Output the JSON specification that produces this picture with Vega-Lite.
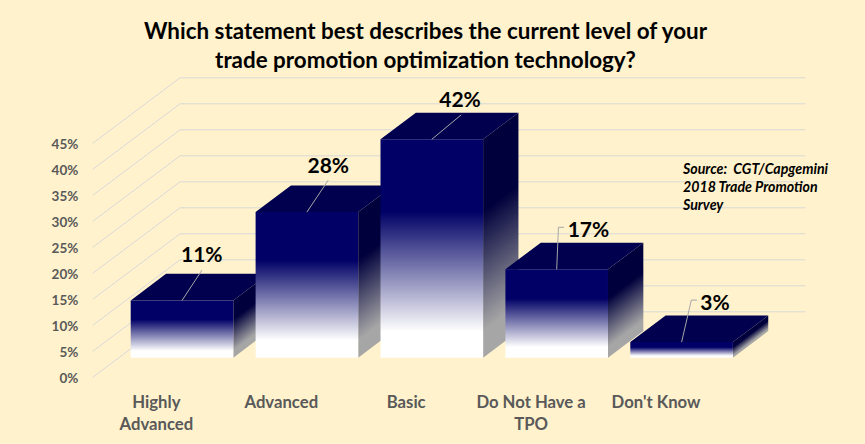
{
"$schema":"https://vega.github.io/schema/vega-lite/v6.json",
"width":865,"height":444,"padding":0,"autosize":{"type":"none"},
"background":"#FFF2CC",
"view":{"stroke":null,"fill":null},
"title":{"text":["Which statement best describes the current level of your","trade promotion optimization technology?"],"font":"Lato","fontSize":22.4,"fontWeight":"bold","color":"#000000","lineHeight":29,"anchor":"middle","frame":"group","baseline":"top","offset":-72,"dx":-7},
"datasets":{
"bars":[
{"category":"Highly Advanced","label":"Highly\nAdvanced","i":0,"value":11},
{"category":"Advanced","label":"Advanced","i":1,"value":28},
{"category":"Basic","label":"Basic","i":2,"value":42},
{"category":"Do Not Have a TPO","label":"Do Not Have a\nTPO","i":3,"value":17},
{"category":"Don't Know","label":"Don't Know","i":4,"value":3}],
"ticks":[{"t":0,"label":"0%"},{"t":5,"label":"5%"},{"t":10,"label":"10%"},{"t":15,"label":"15%"},{"t":20,"label":"20%"},{"t":25,"label":"25%"},{"t":30,"label":"30%"},{"t":35,"label":"35%"},{"t":40,"label":"40%"},{"t":45,"label":"45%"}]
},
"layer":[
{"data":{"name":"ticks"},"transform":[{"calculate":"datum.t-3.77","as":"yf"},{"calculate":"datum.t+8.83","as":"yb"},{"calculate":"-0.715","as":"xf"},{"calculate":"-0.016","as":"xb"}],
 "mark":{"type":"rule","color":"#D9D9D9","strokeWidth":1},
 "encoding":{"x":{"field":"xf","type":"quantitative","axis":null,"scale":{"domain":[-1.4572,5.4684],"nice":false,"zero":false}},"x2":{"field":"xb"},"y":{"field":"yf","type":"quantitative","axis":null,"scale":{"domain":[-16.596,68.79],"nice":false,"zero":false}},"y2":{"field":"yb"}}},
{"data":{"name":"ticks"},"transform":[{"calculate":"datum.t+8.83","as":"yb"},{"calculate":"-0.016","as":"xb"},{"calculate":"4.99","as":"xe"}],
 "mark":{"type":"rule","color":"#D9D9D9","strokeWidth":1},
 "encoding":{"x":{"field":"xb","type":"quantitative","axis":null,"scale":{"domain":[-1.4572,5.4684],"nice":false,"zero":false}},"x2":{"field":"xe"},"y":{"field":"yb","type":"quantitative","axis":null,"scale":{"domain":[-16.596,68.79],"nice":false,"zero":false}}}},
{"data":{"name":"ticks"},"transform":[{"calculate":"datum.t-3.77","as":"yf"},{"calculate":"-0.83","as":"xl"}],
 "mark":{"type":"text","align":"right","baseline":"middle","dy":1.5,"font":"Lato","fontWeight":"bold","fontSize":13.5,"color":"#595959"},
 "encoding":{"x":{"field":"xl","type":"quantitative","axis":null,"scale":{"domain":[-1.4572,5.4684],"nice":false,"zero":false}},"y":{"field":"yf","type":"quantitative","axis":null,"scale":{"domain":[-16.596,68.79],"nice":false,"zero":false}},"text":{"field":"label"}}},

{"data":{"name":"bars"},"transform":[{"filter":"datum.i==0"},{"calculate":"[0,1]","as":"d"},{"flatten":["d"]},{"calculate":"datum.i+0.4107+datum.d*0.283","as":"sx"},{"calculate":"datum.value+datum.d*5.13","as":"st"},{"calculate":"datum.d*5.13","as":"sb"}],
 "mark":{"type":"area","orientation":"vertical","fill":{"gradient":"linear","x1":0,"y1":0.318,"x2":0.197,"y2":0.937,"stops":[{"offset":0,"color":"#00003C"},{"offset":0.33,"color":"#00003C"},{"offset":0.88,"color":"#A6A6A6"},{"offset":1,"color":"#A6A6A6"}]}},
 "encoding":{"x":{"field":"sx","type":"quantitative","axis":null,"scale":{"domain":[-1.4572,5.4684],"nice":false,"zero":false}},"y":{"field":"st","type":"quantitative","axis":null,"scale":{"domain":[-16.596,68.79],"nice":false,"zero":false}},"y2":{"field":"sb"}}},
{"data":{"name":"bars"},"transform":[{"filter":"datum.i==1"},{"calculate":"[0,1]","as":"d"},{"flatten":["d"]},{"calculate":"datum.i+0.4107+datum.d*0.283","as":"sx"},{"calculate":"datum.value+datum.d*5.13","as":"st"},{"calculate":"datum.d*5.13","as":"sb"}],
 "mark":{"type":"area","orientation":"vertical","fill":{"gradient":"linear","x1":0,"y1":0.155,"x2":0.128,"y2":0.98,"stops":[{"offset":0,"color":"#00003C"},{"offset":0.33,"color":"#00003C"},{"offset":0.88,"color":"#A6A6A6"},{"offset":1,"color":"#A6A6A6"}]}},
 "encoding":{"x":{"field":"sx","type":"quantitative","axis":null,"scale":{"domain":[-1.4572,5.4684],"nice":false,"zero":false}},"y":{"field":"st","type":"quantitative","axis":null,"scale":{"domain":[-16.596,68.79],"nice":false,"zero":false}},"y2":{"field":"sb"}}},
{"data":{"name":"bars"},"transform":[{"filter":"datum.i==2"},{"calculate":"[0,1]","as":"d"},{"flatten":["d"]},{"calculate":"datum.i+0.4107+datum.d*0.283","as":"sx"},{"calculate":"datum.value+datum.d*5.13","as":"st"},{"calculate":"datum.d*5.13","as":"sb"}],
 "mark":{"type":"area","orientation":"vertical","fill":{"gradient":"linear","x1":0,"y1":0.109,"x2":0.096,"y2":0.989,"stops":[{"offset":0,"color":"#00003C"},{"offset":0.33,"color":"#00003C"},{"offset":0.88,"color":"#A6A6A6"},{"offset":1,"color":"#A6A6A6"}]}},
 "encoding":{"x":{"field":"sx","type":"quantitative","axis":null,"scale":{"domain":[-1.4572,5.4684],"nice":false,"zero":false}},"y":{"field":"st","type":"quantitative","axis":null,"scale":{"domain":[-16.596,68.79],"nice":false,"zero":false}},"y2":{"field":"sb"}}},
{"data":{"name":"bars"},"transform":[{"filter":"datum.i==3"},{"calculate":"[0,1]","as":"d"},{"flatten":["d"]},{"calculate":"datum.i+0.4107+datum.d*0.283","as":"sx"},{"calculate":"datum.value+datum.d*5.13","as":"st"},{"calculate":"datum.d*5.13","as":"sb"}],
 "mark":{"type":"area","orientation":"vertical","fill":{"gradient":"linear","x1":0,"y1":0.232,"x2":0.169,"y2":0.961,"stops":[{"offset":0,"color":"#00003C"},{"offset":0.33,"color":"#00003C"},{"offset":0.88,"color":"#A6A6A6"},{"offset":1,"color":"#A6A6A6"}]}},
 "encoding":{"x":{"field":"sx","type":"quantitative","axis":null,"scale":{"domain":[-1.4572,5.4684],"nice":false,"zero":false}},"y":{"field":"st","type":"quantitative","axis":null,"scale":{"domain":[-16.596,68.79],"nice":false,"zero":false}},"y2":{"field":"sb"}}},
{"data":{"name":"bars"},"transform":[{"filter":"datum.i==4"},{"calculate":"[0,1]","as":"d"},{"flatten":["d"]},{"calculate":"datum.i+0.4107+datum.d*0.283","as":"sx"},{"calculate":"datum.value+datum.d*5.13","as":"st"},{"calculate":"datum.d*5.13","as":"sb"}],
 "mark":{"type":"area","orientation":"vertical","fill":{"gradient":"linear","x1":0,"y1":0.631,"x2":0.167,"y2":0.895,"stops":[{"offset":0,"color":"#00003C"},{"offset":0.33,"color":"#00003C"},{"offset":0.88,"color":"#A6A6A6"},{"offset":1,"color":"#A6A6A6"}]}},
 "encoding":{"x":{"field":"sx","type":"quantitative","axis":null,"scale":{"domain":[-1.4572,5.4684],"nice":false,"zero":false}},"y":{"field":"st","type":"quantitative","axis":null,"scale":{"domain":[-16.596,68.79],"nice":false,"zero":false}},"y2":{"field":"sb"}}},

{"data":{"name":"bars"},"transform":[{"calculate":"[0,1]","as":"d"},{"flatten":["d"]},{"calculate":"datum.i-0.4107+datum.d*0.283","as":"tl"},{"calculate":"datum.i+0.4107+datum.d*0.283","as":"tr"},{"calculate":"datum.value+datum.d*5.13","as":"ty"}],
 "mark":{"type":"area","orientation":"horizontal","fill":"#00004F"},
 "encoding":{"y":{"field":"ty","type":"quantitative","axis":null,"scale":{"domain":[-16.596,68.79],"nice":false,"zero":false}},"x":{"field":"tl","type":"quantitative","axis":null,"scale":{"domain":[-1.4572,5.4684],"nice":false,"zero":false}},"x2":{"field":"tr"},"detail":{"field":"category"}}},

{"data":{"name":"bars"},"transform":[{"calculate":"datum.i-0.4107","as":"fl"},{"calculate":"datum.i+0.4107","as":"fr"}],
 "mark":{"type":"rect","fill":{"gradient":"linear","x1":0,"y1":0,"x2":0,"y2":1,"stops":[{"offset":0,"color":"#000066"},{"offset":0.33,"color":"#000066"},{"offset":0.88,"color":"#FFFFFF"},{"offset":1,"color":"#FFFFFF"}]}},
 "encoding":{"x":{"field":"fl","type":"quantitative","axis":null,"scale":{"domain":[-1.4572,5.4684],"nice":false,"zero":false}},"x2":{"field":"fr"},"y":{"field":"value","type":"quantitative","axis":null,"scale":{"domain":[-16.596,68.79],"nice":false,"zero":false}},"y2":{"datum":0}}},

{"data":{"name":"bars"},"transform":[{"calculate":"[0,1,2]","as":"d"},{"flatten":["d"]},
 {"calculate":"[0.16,0.171,0.235,0.014,0.078][datum.i]","as":"ox"},{"calculate":"[5.85,6.15,4.69,8.08,8.08][datum.i]","as":"oy"},{"calculate":"[0,0,0,0.045,0.045][datum.i]","as":"ex"},
 {"calculate":"datum.i+(datum.d==0?0:datum.ox+(datum.d==2?datum.ex:0))","as":"lx"},{"calculate":"datum.value+(datum.d==0?0:datum.oy)","as":"ly"}],
 "mark":{"type":"line","color":"#A6A6A6","strokeWidth":1},
 "encoding":{"x":{"field":"lx","type":"quantitative","axis":null,"scale":{"domain":[-1.4572,5.4684],"nice":false,"zero":false}},"y":{"field":"ly","type":"quantitative","axis":null,"scale":{"domain":[-16.596,68.79],"nice":false,"zero":false}},"detail":{"field":"category"},"order":{"field":"d"}}},

{"data":{"name":"bars"},"transform":[{"calculate":"datum.value+'%'","as":"pct"},{"calculate":"datum.i+[0.158,0.171,0.226,0.254,0.267][datum.i]","as":"vx"},{"calculate":"datum.value+[8.79,9.04,7.56,7.75,7.7][datum.i]","as":"vy"}],
 "mark":{"type":"text","align":"center","baseline":"middle","dy":1.5,"font":"Lato","fontWeight":"bold","fontSize":21,"color":"#000000"},
 "encoding":{"x":{"field":"vx","type":"quantitative","axis":null,"scale":{"domain":[-1.4572,5.4684],"nice":false,"zero":false}},"y":{"field":"vy","type":"quantitative","axis":null,"scale":{"domain":[-16.596,68.79],"nice":false,"zero":false}},"text":{"field":"pct"}}},

{"data":{"name":"bars"},"transform":[{"calculate":"datum.i-0.205","as":"cx"},{"calculate":"-7.15","as":"cy"}],
 "mark":{"type":"text","align":"center","baseline":"top","font":"Lato","fontWeight":"bold","fontSize":16.7,"color":"#595959","lineBreak":"\n","lineHeight":22},
 "encoding":{"x":{"field":"cx","type":"quantitative","axis":null,"scale":{"domain":[-1.4572,5.4684],"nice":false,"zero":false}},"y":{"field":"cy","type":"quantitative","axis":null,"scale":{"domain":[-16.596,68.79],"nice":false,"zero":false}},"text":{"field":"label"}}},

{"data":{"values":[{"note":"Source:\u00a0 CGT/Capgemini\n2018 Trade Promotion\nSurvey","nx":4.011,"ny":37.4}]},
 "mark":{"type":"text","align":"left","baseline":"top","font":"Lato","fontWeight":"bold","fontStyle":"italic","fontSize":14.2,"color":"#000000","lineBreak":"\n","lineHeight":18},
 "encoding":{"x":{"field":"nx","type":"quantitative","axis":null,"scale":{"domain":[-1.4572,5.4684],"nice":false,"zero":false}},"y":{"field":"ny","type":"quantitative","axis":null,"scale":{"domain":[-16.596,68.79],"nice":false,"zero":false}},"text":{"field":"note"}}}
]
}
